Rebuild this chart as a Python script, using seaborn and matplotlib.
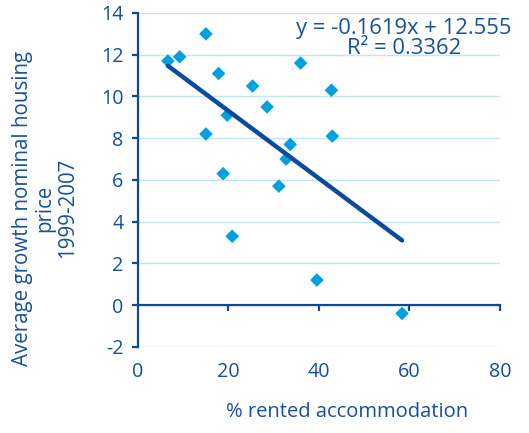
import matplotlib
matplotlib.use("Agg")
import matplotlib.pyplot as plt
import seaborn as sns
import numpy as np
import pandas as pd

# Share of rented accommodation (%) and average nominal house price growth 1999-2007
rented_pct = [6.7, 9.3, 15.1, 17.9, 25.4, 28.6, 36.0, 42.8, 19.8, 15.1,
              43.0, 33.7, 32.8, 18.9, 31.2, 20.9, 39.6, 58.4]
price_growth = [11.7, 11.9, 13.0, 11.1, 10.5, 9.5, 11.6, 10.3, 9.1, 8.2,
                8.1, 7.7, 7.0, 6.3, 5.7, 3.3, 1.2, -0.4]

# Linear trend as stated on the chart
slope = -0.1619
intercept = 12.555
r_squared = 0.3362

x_ticks = [0, 20, 40, 60, 80]
y_ticks = [-2, 0, 2, 4, 6, 8, 10, 12, 14]

TEXT = "#1550a0"
POINT = "#00a0e3"
LINE = "#0b4a9c"
GRID = "#bfe6f6"

sns.set_theme(style="white")
plt.rcParams["font.family"] = ["Open Sans", "DejaVu Sans"]
plt.rcParams["axes.unicode_minus"] = False

df = pd.DataFrame({"rented": rented_pct, "growth": price_growth})

fig = plt.figure(figsize=(5.29, 4.33), dpi=100)
ax = fig.add_axes([0.260, 0.199, 0.685, 0.771])

for yv in y_ticks:
    ax.axhline(yv, color=GRID, lw=1.0, zorder=0)

sns.scatterplot(data=df, x="rented", y="growth", marker="D", s=48,
                color=POINT, edgecolor="none", ax=ax, zorder=3)

trend_x = np.array([min(rented_pct), max(rented_pct)])
trend = pd.DataFrame({"x": trend_x, "y": slope * trend_x + intercept})
sns.lineplot(data=trend, x="x", y="y", color=LINE, lw=3.2, ax=ax, zorder=4)

ax.set_xlim(0, 80)
ax.set_ylim(-2, 14)
ax.set_xticks(x_ticks)
ax.set_yticks(y_ticks)

for side in ["top", "right", "bottom"]:
    ax.spines[side].set_visible(False)
ax.spines["left"].set_color(LINE)
ax.spines["left"].set_linewidth(1.6)

ax.tick_params(axis="y", colors=LINE, labelcolor=TEXT, labelsize=14.2,
               length=4, width=1.6, direction="out", left=True, pad=6)
ax.tick_params(axis="x", labelcolor=TEXT, labelsize=14.2, length=0, pad=11)

# Zero line with its own tick marks
zero_axis = ax.secondary_xaxis(0, transform=ax.transData)
zero_axis.spines["bottom"].set_color(LINE)
zero_axis.spines["bottom"].set_linewidth(1.6)
zero_axis.set_xticks(x_ticks[1:])
zero_axis.tick_params(axis="x", colors=LINE, length=4, width=1.6,
                      direction="out", labelbottom=False)

ax.set_xlabel("% rented accommodation", color=TEXT, fontsize=14.5)
ax.xaxis.set_label_coords(0.578, -0.165)
ax.set_ylabel("Average growth nominal housing\nprice\n1999-2007",
              color=TEXT, fontsize=14.8, multialignment="center",
              linespacing=1.12)
ax.yaxis.set_label_coords(-0.163, 0.415)

ax.text(0.735, 0.985,
        f"y = {slope:.4f}x + {intercept:.3f}\nR\u00b2 = {r_squared:.4f}",
        transform=ax.transAxes, ha="center", va="top", multialignment="center",
        color=TEXT, fontsize=15.8, linespacing=0.95)

fig.savefig("out.png", dpi=100)
